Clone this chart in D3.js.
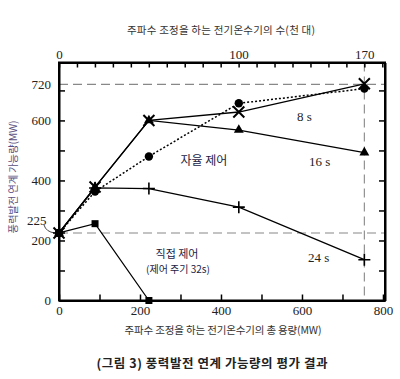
<!DOCTYPE html>
<html><head><meta charset="utf-8">
<script src="https://cdn.jsdelivr.net/npm/d3@7"></script>
<style>
body{margin:0;background:#fff;}
svg{display:block;}
.num{font-family:"Liberation Serif","DejaVu Serif",serif;font-size:13px;fill:#222;}
.kr{font-family:"Noto Sans CJK KR","Noto Sans",sans-serif;}
</style></head>
<body><svg id="c" width="400" height="379"></svg>
<script>
// ---- data ----
const xCapacityMW = [0, 89, 222, 444, 754];          // total capacity (MW), bottom axis
const heaterCounts = [0, 20, 50, 100, 170];          // thousand units, top axis
const bottomTicks = [0, 100, 200, 300, 400, 500, 600, 700, 800];
const bottomLabels = [0, 200, 400, 600, 800];
const topTicks = d3.range(0, 181, 10);
const topLabels = [0, 100, 170];
const leftTicks = [0, 100, 200, 300, 400, 500, 600, 700];
const leftLabels = [0, 200, 400, 600];
const series8s = [225, 378, 600, 628, 722];
const series16s = [225, 378, 600, 568, 493];
const seriesDotted = [225, 363, 480, 657, 706];
const series24s = [225, 375, 373, 311, 136];
const seriesDirect = [225, 256, 0];
const refLines = [720, 225];
const refCount = 170;

const svg = d3.select("#c");
const L = 59, R = 385, T = 62.5, B = 300.5;
const x = d3.scaleLinear().domain([0, 805]).range([L, R]);
const mwPerK = 754 / 170;
const xTop = d3.scaleLinear().domain([0, 805 / mwPerK]).range([L, R]);
const y = d3.scaleLinear().domain([0, 793]).range([B, T]);

// reference dashed lines
const g0 = svg.append("g").attr("stroke", "#888").attr("stroke-width", 1.1).attr("stroke-dasharray", "9,5");
refLines.forEach(v => g0.append("line").attr("x1", L).attr("x2", R).attr("y1", y(v)).attr("y2", y(v)));
g0.append("line").attr("x1", xTop(refCount)).attr("x2", xTop(refCount)).attr("y1", T).attr("y2", B);

// axes
function styleAxis(g) {
  g.select(".domain").attr("stroke", "#000").attr("stroke-width", 2);
  g.selectAll(".tick line").attr("stroke", "#000").attr("stroke-width", 1.5);
  g.selectAll(".tick text").attr("class", "num").attr("font-family", null).attr("font-size", null);
}
svg.append("g").attr("transform", `translate(0,${B})`)
  .call(d3.axisBottom(x).tickValues(bottomTicks).tickSizeInner(-6).tickSizeOuter(0).tickPadding(5)
    .tickFormat(d => bottomLabels.includes(d) ? d : ""))
  .call(styleAxis);
svg.append("g").attr("transform", `translate(0,${T})`)
  .call(d3.axisTop(xTop).tickValues(topTicks).tickSizeInner(-5).tickSizeOuter(0).tickPadding(4)
    .tickFormat(d => topLabels.includes(d) ? d : ""))
  .call(styleAxis);
svg.append("g").attr("transform", `translate(${L},0)`)
  .call(d3.axisLeft(y).tickValues(leftTicks).tickSizeInner(-6).tickSizeOuter(0).tickPadding(8)
    .tickFormat(d => leftLabels.includes(d) ? d : ""))
  .call(styleAxis);
svg.append("g").attr("transform", `translate(${R},0)`)
  .call(d3.axisRight(y).tickValues(leftTicks).tickSizeInner(-6).tickSizeOuter(0).tickFormat(""))
  .call(styleAxis);
svg.append("rect").attr("x", L).attr("y", T).attr("width", R - L).attr("height", B - T)
  .attr("fill", "none").attr("stroke", "#000").attr("stroke-width", 2);

// extra labels 720 and 225
svg.append("text").attr("class", "num").attr("x", L - 8).attr("y", y(720)).attr("dy", "0.35em")
  .attr("text-anchor", "end").text(720);
svg.append("text").attr("class", "num").attr("x", 27).attr("y", y(225) - 13).attr("dy", "0.35em").text(225);
svg.append("path").attr("d", `M44,${y(225) - 8} Q46,${y(225) - 1} 55,${y(225)}`)
  .attr("fill", "none").attr("stroke", "#333").attr("stroke-width", 0.9);

// lines
const line = d3.line().x(d => x(d[0])).y(d => y(d[1]));
function pts(vals) { return vals.map((v, i) => [xCapacityMW[i], v]); }
const lg = svg.append("g").attr("fill", "none").attr("stroke", "#000");
lg.append("path").attr("d", line(pts(series8s))).attr("stroke-width", 1.3);
lg.append("path").attr("d", line(pts(series16s))).attr("stroke-width", 1.3);
lg.append("path").attr("d", line(pts(series24s))).attr("stroke-width", 1.3);
lg.append("path").attr("d", line(pts(seriesDirect))).attr("stroke-width", 1.3);
lg.append("path").attr("d", line(pts(seriesDotted))).attr("stroke-width", 1.5).attr("stroke-dasharray", "2,2");

// markers
const mg = svg.append("g");
pts(seriesDotted).forEach(p => mg.append("circle").attr("cx", x(p[0])).attr("cy", y(p[1])).attr("r", 4.2).attr("fill", "#000"));
pts(series16s).forEach(p => mg.append("path").attr("d", d3.symbol(d3.symbolTriangle, 42)())
  .attr("transform", `translate(${x(p[0])},${y(p[1])})`).attr("fill", "#000"));
pts(series8s).forEach(p => mg.append("path").attr("d", "M-5.5,-5.5L5.5,5.5M-5.5,5.5L5.5,-5.5")
  .attr("transform", `translate(${x(p[0])},${y(p[1])})`).attr("stroke", "#000").attr("stroke-width", 2));
pts(series24s).forEach(p => mg.append("path").attr("d", "M-6,0L6,0M0,-6L0,6")
  .attr("transform", `translate(${x(p[0])},${y(p[1])})`).attr("stroke", "#000").attr("stroke-width", 1.6));
pts(seriesDirect).forEach(p => mg.append("rect").attr("x", x(p[0]) - 3.5).attr("y", y(p[1]) - 3.5)
  .attr("width", 7).attr("height", 7).attr("fill", "#000"));

// annotations
const ann = svg.append("g");
ann.append("text").attr("class", "num").attr("x", 297).attr("y", 121).text("8 s");
ann.append("text").attr("class", "num").attr("x", 309).attr("y", 166).text("16 s");
ann.append("text").attr("class", "num").attr("x", 308).attr("y", 262).text("24 s");
ann.append("text").attr("class", "kr").attr("x", 204).attr("y", 165).attr("text-anchor", "middle")
  .attr("font-size", 12).attr("fill", "#222244").text("자율 제어");
ann.append("text").attr("class", "kr").attr("x", 177).attr("y", 258).attr("text-anchor", "middle")
  .attr("font-size", 11).attr("fill", "#222244").text("직접 제어");
ann.append("text").attr("class", "kr").attr("x", 178).attr("y", 272.5).attr("text-anchor", "middle")
  .attr("font-size", 10).attr("fill", "#222244").text("(제어 주기 32s)");

// titles
svg.append("text").attr("class", "kr").attr("x", 221).attr("y", 34).attr("text-anchor", "middle")
  .attr("font-size", 10.5).attr("fill", "#333").attr("textLength", 188).text("주파수 조정을 하는 전기온수기의 수(천 대)");
svg.append("text").attr("class", "kr").attr("x", 223).attr("y", 334).attr("text-anchor", "middle")
  .attr("font-size", 10.5).attr("fill", "#333").attr("textLength", 197).text("주파수 조정을 하는 전기온수기의 총 용량(MW)");
svg.append("text").attr("class", "kr").attr("transform", "translate(17,177) rotate(-90)").attr("text-anchor", "middle")
  .attr("font-size", 10.5).attr("fill", "#5a4f80").attr("textLength", 113).text("풍력발전 연계 가능량(MW)");
svg.append("text").attr("class", "kr").attr("x", 212).attr("y", 368).attr("text-anchor", "middle")
  .attr("font-size", 12.5).attr("font-weight", "bold").attr("fill", "#222").attr("textLength", 231)
  .text("(그림 3) 풍력발전 연계 가능량의 평가 결과");
</script></body></html>
